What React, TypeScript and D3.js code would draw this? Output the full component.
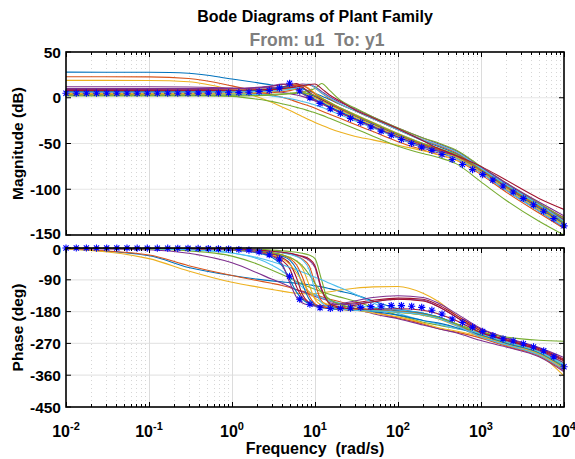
import React, { useEffect, useRef } from 'react';
import * as d3 from 'd3';

// frequency grid (rad/s) shared by the plant family
const freqGrid = [0.01, 0.1, 0.3, 1, 2, 3, 4, 5, 6, 7, 8.5, 10, 12, 15, 20, 30, 50, 100, 200, 300, 500, 1000, 2000, 5000, 10000];

const magFamily: number[][] = [
  [28, 27.8, 26.8, 20.5, 16.5, 14, 12.5, 11.5, 10.5, 9.5, 7.5, 5, 2, -2, -7, -14, -23, -35, -47, -53, -61, -78, -96, -118, -135],
  [23, 22.8, 21, 13, 7, 3.5, 0.5, -2, -4.5, -6.5, -9, -11.5, -14.5, -18, -22.5, -29, -37, -48, -57, -62, -68, -84, -103, -126, -143],
  [19, 18.8, 17.5, 8.5, 1, -5, -10, -14, -17.5, -20.5, -24, -27, -30, -33.5, -37.5, -42, -46, -52, -58, -62, -68, -82, -100, -123, -140],
  [12, 12, 11.7, 10.5, 9, 7.5, 6, 4.5, 3, 1.5, -1, -3.5, -6.5, -10.5, -16, -23, -32, -44, -55, -60, -66, -82, -101, -124, -142],
  [3, 3, 2.8, 1.5, -1.5, -4, -6.5, -8.5, -10.5, -12, -14.5, -16.5, -19, -22.5, -27, -33.5, -42, -53, -61, -65, -72, -92, -112, -135, -150],
  [7, 7, 7.2, 7.8, 9, 10, 10.5, 10, 8.5, 6.5, 3.5, 1, -2, -6, -11, -18, -27, -39, -50, -56, -64, -80, -99, -122, -139],
  [9, 9, 9.1, 9.6, 10.8, 12.5, 14.5, 15, 11, 6, 1, -2.5, -6, -10.5, -16, -23, -32, -43, -53, -58, -64, -78, -95, -116, -131],
  [6, 6, 6.1, 6.4, 7.3, 8.5, 10.5, 13, 14, 11, 5, 1, -3, -7.5, -13, -20, -29, -41, -52, -57, -64, -79, -97, -120, -137],
  [4, 4, 4.1, 4.3, 4.8, 5.5, 6.5, 7.8, 9.5, 11.5, 14, 11, 5, -1, -7, -14, -23, -35, -46, -52, -60, -78, -97, -120, -138],
  [8, 8, 8.1, 8.3, 9, 10, 11.3, 13, 14.5, 14, 10, 5, 0, -5, -11, -18, -27, -39, -50, -55, -63, -79, -98, -121, -139],
  [10, 10, 10, 10.2, 10.7, 11.2, 12, 13, 14, 15, 14.5, 12, 7, 1, -5, -12, -21, -33, -44, -50, -58, -76, -94, -116, -133],
  [3, 3, 3, 3.1, 3.4, 3.8, 4.3, 5, 5.7, 6.5, 8, 10, 15.5, 8, -2.5, -11, -21, -33, -44, -49, -57, -75, -93, -115, -132],
  [5, 5, 4.9, 4.5, 3.5, 2, 0.5, -1, -2.5, -4, -6, -8, -10.5, -14, -18.5, -25, -33, -44, -54, -59, -66, -82, -101, -124, -141],
  [7, 7, 7.1, 7.4, 8.3, 9.5, 11.5, 14, 15.5, 12, 6, 2, -2, -6.5, -12, -19, -28, -40, -51, -56, -63, -78, -96, -118, -134],
  [6.5, 6.5, 6.6, 7, 8, 9.5, 11.5, 12, 9, 5.5, 1.5, -1.5, -5, -9.5, -15, -22, -31, -42, -53, -58, -65, -80, -98, -121, -138],
  [5.5, 5.5, 5.6, 5.9, 6.7, 7.8, 9.5, 11.5, 13.5, 13.5, 9, 4, -0.5, -5.5, -11.5, -19, -28, -40, -51, -56, -63, -79, -97, -119, -136],
  [4.5, 4.5, 4.6, 5, 5.8, 7, 8.5, 9.5, 9, 7, 3, 0, -3.5, -8, -13.5, -21, -30, -42, -53, -58, -65, -81, -99, -122, -139],
  [9.5, 9.5, 9.6, 10, 11.3, 13, 15, 14, 9, 4.5, 0, -3, -6.5, -11, -16.5, -23.5, -32, -43, -53, -58, -63, -76, -93, -114, -129],
  [2, 2, 2, 2, 2.3, 2.8, 3.5, 4.3, 5, 5.3, 4.5, 2.5, -0.5, -5, -11, -18.5, -27.5, -39.5, -50, -55, -62, -78, -96, -118, -136],
  [6, 6, 6.1, 6.2, 6.7, 7.3, 8.2, 9.3, 10.8, 12.5, 15, 11, 5.5, 0, -6.5, -14, -23, -35, -46, -51, -59, -77, -95, -117, -135],
  [8, 8, 8, 8.2, 8.7, 9.2, 10, 11, 12, 13, 14.5, 15, 10, 3, -3.5, -13, -22, -34, -47, -55, -63, -75, -90, -110, -122],
];

// phase (deg) of each member, same order and grid
const phaseFamily: number[][] = [
  [-3, -22, -55, -78, -88, -93, -96, -98, -100, -102, -104, -107, -110, -115, -122, -132, -150, -172, -185, -195, -215, -245, -268, -295, -330],
  [-2, -20, -50, -78, -92, -100, -106, -112, -118, -122, -128, -133, -138, -145, -152, -165, -180, -198, -215, -228, -238, -255, -278, -305, -345],
  [-3, -30, -65, -97, -110, -117, -122, -126, -128, -129, -130, -129, -127, -124, -119, -114, -110, -109, -128, -150, -190, -234, -262, -300, -362],
  [-1, -5, -15, -42, -70, -88, -100, -110, -118, -124, -131, -137, -143, -150, -160, -172, -186, -200, -218, -228, -240, -262, -280, -308, -350],
  [-0.5, -3, -8, -23, -45, -62, -75, -86, -95, -102, -110, -117, -124, -131, -139, -150, -168, -190, -210, -218, -228, -240, -265, -292, -325],
  [0, -1, -4, -14, -30, -48, -65, -82, -97, -110, -124, -133, -141, -149, -156, -163, -168, -175, -185, -195, -215, -245, -268, -296, -332],
  [0, -0.5, -1.5, -5, -11, -20, -35, -60, -110, -140, -155, -162, -164, -163, -160, -155, -148, -142, -145, -160, -190, -230, -256, -283, -315],
  [0, -0.4, -1.2, -4, -9, -15, -23, -35, -60, -100, -145, -160, -167, -171, -174, -175, -175, -178, -185, -195, -215, -250, -272, -300, -338],
  [0, -0.3, -1, -3, -6, -9, -13, -17, -23, -31, -50, -100, -150, -165, -172, -176, -178, -180, -188, -198, -217, -248, -270, -298, -340],
  [0, -0.5, -1.5, -4, -8, -13, -19, -27, -38, -55, -105, -145, -162, -169, -173, -176, -178, -182, -190, -200, -220, -252, -274, -302, -342],
  [0, -0.3, -1, -3, -6, -9, -12, -16, -20, -25, -35, -55, -120, -155, -160, -158, -152, -145, -148, -165, -195, -240, -262, -290, -325],
  [0, -0.2, -0.6, -2, -4, -6, -8, -10, -12, -15, -20, -30, -90, -160, -172, -176, -178, -180, -187, -196, -215, -246, -268, -296, -335],
  [0, -1.5, -4.5, -14, -27, -38, -47, -55, -62, -68, -76, -83, -90, -100, -112, -130, -155, -185, -205, -215, -228, -242, -266, -294, -330],
  [0, -0.4, -1.3, -4.5, -10, -17, -27, -45, -85, -130, -155, -163, -168, -170, -168, -162, -152, -145, -150, -165, -195, -235, -260, -288, -320],
  [0, -0.5, -2, -6, -14, -26, -50, -90, -125, -145, -158, -164, -168, -171, -173, -176, -180, -190, -205, -212, -225, -247, -270, -298, -338],
  [0, -0.4, -1.2, -4, -8, -13, -20, -30, -48, -80, -135, -158, -166, -170, -173, -175, -176, -180, -188, -198, -218, -252, -275, -304, -346],
  [0, -0.5, -1.5, -5, -11, -19, -30, -47, -70, -95, -125, -142, -153, -161, -167, -175, -184, -195, -212, -225, -235, -250, -273, -300, -340],
  [0, -0.4, -1.4, -5, -12, -22, -45, -100, -140, -155, -162, -164, -164, -162, -158, -150, -140, -135, -140, -155, -185, -228, -254, -282, -310],
  [0, -0.4, -1.2, -4, -8, -13, -19, -27, -37, -50, -75, -100, -125, -145, -160, -170, -176, -182, -190, -198, -214, -238, -252, -261, -264],
  [0, -0.3, -1, -3, -6, -9, -13, -18, -24, -33, -60, -120, -155, -167, -172, -176, -178, -181, -189, -199, -219, -252, -274, -303, -344],
  [0, -0.3, -0.9, -3, -6, -9, -12, -15, -19, -23, -31, -50, -115, -158, -168, -172, -173, -172, -176, -186, -205, -240, -260, -285, -318],
];

// nominal plant, drawn with star markers
const nominalFreq = [
  0.01, 0.0133, 0.0176, 0.0233, 0.0309, 0.0409, 0.0543, 0.072, 0.0954, 0.126,
  0.168, 0.222, 0.295, 0.391, 0.518, 0.687, 0.91, 1.21, 1.6, 2.12,
  2.81, 3.73, 4.94, 6.55, 8.69, 11.5, 15.3, 20.2, 26.8, 35.6,
  47.1, 62.5, 82.9, 110, 146, 193, 256, 339, 450, 597,
  791, 1048, 1390, 1842, 2442, 3237, 4292, 5690, 7543, 10000,
];
const nominalMag = [
  5, 5, 5, 5, 5, 5, 5, 5, 5, 5,
  5, 5, 5, 5.1, 5.1, 5.2, 5.4, 5.6, 6, 6.7,
  8, 10.5, 15.8, 7.3, 0, -6.2, -12, -17, -22.5, -27,
  -32, -36.5, -41, -45.6, -50, -54, -57.5, -62, -67.5, -73,
  -78.5, -84, -90, -96.5, -103, -110, -117, -124, -132, -140,
];
const nominalPhase = [
  0, 0, 0, -0.1, -0.1, -0.2, -0.2, -0.3, -0.4, -0.5,
  -0.6, -0.8, -1, -1.3, -1.7, -2.3, -3, -4.2, -6, -11,
  -19, -31, -80, -145, -159, -169, -171, -171, -170, -168,
  -166, -165, -163, -163, -165, -168, -176, -187, -201, -211,
  -224, -236, -248, -257, -263, -271, -280, -291, -308, -336,
];

const magTicks = [50, 0, -50, -100, -150];
const phaseTicks = [0, -90, -180, -270, -360, -450];
const decadeExponents = [-2, -1, 0, 1, 2, 3, 4];
const lineColors = ['#0072BD', '#D95319', '#EDB120', '#7E2F8E', '#77AC30', '#4DBEEE', '#A2142F'];

const App = () => {
  const ref = useRef<SVGSVGElement>(null);

  useEffect(() => {
    const svg = d3.select(ref.current);
    svg.selectAll('*').remove();

    const font = "'Liberation Sans', Arial, Helvetica, sans-serif";
    const left = 66;
    const right = 564;
    const x = d3.scaleLog().domain([1e-2, 1e4]).range([left, right]);
    const allTicks = x.ticks();
    const isDecade = (v: number) => Math.abs(Math.log10(v) - Math.round(Math.log10(v))) < 1e-6;

    const panels = [
      { id: 'mag', top: 52, bottom: 235, domain: [-150, 50], ticks: magTicks, curves: magFamily, nominal: nominalMag, label: 'Magnitude (dB)' },
      { id: 'phase', top: 248, bottom: 407, domain: [-450, 0], ticks: phaseTicks, curves: phaseFamily, nominal: nominalPhase, label: 'Phase (deg)' },
    ];

    panels.forEach((p, pi) => {
      const y = d3.scaleLinear().domain(p.domain).range([p.bottom, p.top]);
      const g = svg.append('g');

      g.append('clipPath').attr('id', `clip-${p.id}`)
        .append('rect').attr('x', left).attr('y', p.top).attr('width', right - left).attr('height', p.bottom - p.top);

      // grid
      g.selectAll('.hgrid').data(p.ticks.filter((t) => t !== p.domain[0] && t !== p.domain[1]))
        .enter().append('line')
        .attr('x1', left).attr('x2', right)
        .attr('y1', (d) => y(d)).attr('y2', (d) => y(d))
        .attr('stroke', '#e6e6e6').attr('stroke-width', 1.2);
      g.selectAll('.vgrid').data(allTicks.filter((t) => t > 1e-2 && t < 1e4))
        .enter().append('line')
        .attr('x1', (d) => Math.round(x(d)) + 0.5).attr('x2', (d) => Math.round(x(d)) + 0.5)
        .attr('y1', p.top).attr('y2', p.bottom)
        .attr('stroke', (d) => (isDecade(d) ? '#dcdcdc' : '#d6d6d6'))
        .attr('stroke-dasharray', (d) => (isDecade(d) ? null : '1,3'))
        .attr('stroke-width', 1);

      // plant family
      const line = d3.line<number>()
        .x((_, i) => x(freqGrid[i]))
        .y((v) => y(v))
        .curve(d3.curveMonotoneX);
      g.append('g').attr('clip-path', `url(#clip-${p.id})`)
        .selectAll('path').data(p.curves).enter().append('path')
        .attr('d', (d) => line(d))
        .attr('fill', 'none')
        .attr('stroke', (_, i) => lineColors[i % lineColors.length])
        .attr('stroke-width', 1.1);

      // nominal stars
      const r = 3.6;
      const q = r * 0.72;
      g.append('g').selectAll('path').data(p.nominal).enter().append('path')
        .attr('d', (v, i) => {
          const cx = x(nominalFreq[i]);
          const cy = y(v);
          return `M${cx - r},${cy}h${2 * r}M${cx},${cy - r}v${2 * r}M${cx - q},${cy - q}l${2 * q},${2 * q}M${cx - q},${cy + q}l${2 * q},${-2 * q}`;
        })
        .attr('stroke', '#0000ff').attr('stroke-width', 1.1).attr('fill', 'none');

      // ticks
      const tk = g.append('g').attr('stroke', '#000').attr('stroke-width', 1);
      allTicks.forEach((t) => {
        const len = isDecade(t) ? 5 : 3;
        const xx = Math.round(x(t)) + 0.5;
        tk.append('line').attr('x1', xx).attr('x2', xx).attr('y1', p.bottom).attr('y2', p.bottom - len);
        tk.append('line').attr('x1', xx).attr('x2', xx).attr('y1', p.top).attr('y2', p.top + len);
      });
      p.ticks.forEach((t) => {
        tk.append('line').attr('x1', left).attr('x2', left + 5).attr('y1', y(t)).attr('y2', y(t));
        tk.append('line').attr('x1', right).attr('x2', right - 5).attr('y1', y(t)).attr('y2', y(t));
      });

      // box
      g.append('rect').attr('x', left).attr('y', p.top).attr('width', right - left).attr('height', p.bottom - p.top)
        .attr('fill', 'none').attr('stroke', '#000').attr('stroke-width', 1.6);

      // y tick labels (the labels where the panels meet are nudged apart a little)
      g.selectAll('.ylab').data(p.ticks).enter().append('text')
        .attr('x', left - 5)
        .attr('y', (d) => {
          let nudge = 0;
          if (pi === 0 && d === p.domain[0]) nudge = -1.5;
          if (pi === 1 && d === p.domain[1]) nudge = 1.5;
          return y(d) + 5.5 + nudge;
        })
        .attr('text-anchor', 'end')
        .attr('font-family', font).attr('font-weight', 'bold').attr('font-size', 15.5)
        .text((d) => d);

      // y axis label
      g.append('text')
        .attr('transform', `translate(23,${(p.top + p.bottom) / 2}) rotate(-90)`)
        .attr('text-anchor', 'middle')
        .attr('font-family', font).attr('font-weight', 'bold').attr('font-size', 15.5)
        .text(p.label);
    });

    // x tick labels with superscript exponents
    decadeExponents.forEach((e) => {
      const t = svg.append('text')
        .attr('x', x(10 ** e)).attr('y', 437)
        .attr('text-anchor', 'middle')
        .attr('font-family', font).attr('font-weight', 'bold').attr('font-size', 16);
      t.append('tspan').text('10');
      t.append('tspan').attr('dy', -7).attr('font-size', 11).text(e);
    });

    svg.append('text')
      .attr('x', (left + right) / 2).attr('y', 454)
      .attr('text-anchor', 'middle')
      .attr('font-family', font).attr('font-weight', 'bold').attr('font-size', 16)
      .attr('xml:space', 'preserve')
      .text('Frequency  (rad/s)');

    svg.append('text')
      .attr('x', (left + right) / 2).attr('y', 22)
      .attr('text-anchor', 'middle')
      .attr('font-family', font).attr('font-weight', 'bold').attr('font-size', 16)
      .text('Bode Diagrams of Plant Family');

    svg.append('text')
      .attr('x', (left + right) / 2 + 2).attr('y', 46)
      .attr('text-anchor', 'middle')
      .attr('font-family', font).attr('font-weight', 'bold').attr('font-size', 17.5)
      .attr('fill', '#7f7f7f')
      .attr('xml:space', 'preserve')
      .text('From: u1  To: y1');
  }, []);

  return (
    <svg
      ref={ref}
      width={575}
      height={459}
      style={{ position: 'absolute', left: 0, top: 0, background: '#fff' }}
    />
  );
};

export default App;
